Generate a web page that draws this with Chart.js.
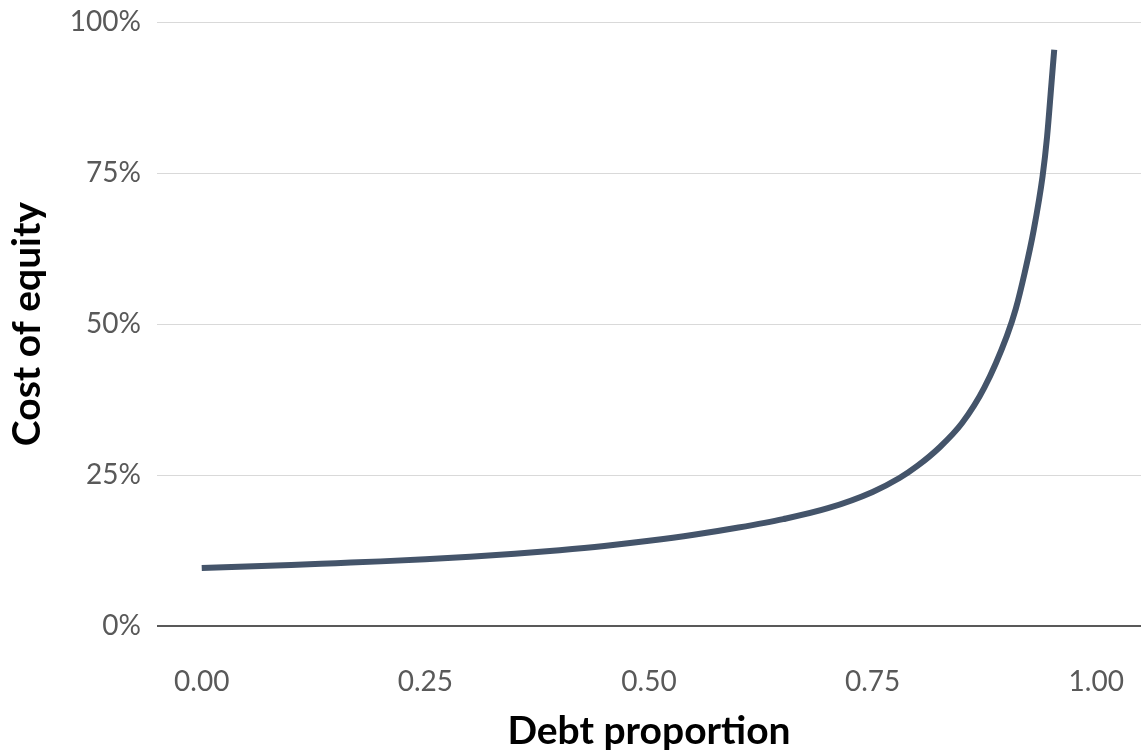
<!DOCTYPE html>
<html>
<head>
<meta charset="utf-8">
<script src="https://cdn.jsdelivr.net/npm/chart.js@4"></script>
<style>
  html, body { margin: 0; padding: 0; background: #ffffff; }
  #wrap { width: 1146px; height: 750px; }
</style>
</head>
<body>
<div id="wrap"><canvas id="c" width="1146" height="750"></canvas></div>
<script>
// Debt proportion (x) values
const debtProportion = [0, 0.05, 0.1, 0.15, 0.2, 0.25, 0.3, 0.35, 0.4, 0.45, 0.5, 0.55, 0.6, 0.65, 0.7, 0.75, 0.78, 0.8, 0.825, 0.85, 0.875, 0.9, 0.91, 0.92, 0.93, 0.94, 0.945, 0.95, 0.953];
// Cost of equity (y) values
const costOfEquity = [0.096, 0.0985, 0.101, 0.104, 0.107, 0.1105, 0.1145, 0.1195, 0.1255, 0.1325, 0.141, 0.151, 0.163, 0.177, 0.195, 0.222, 0.245, 0.265, 0.296, 0.336, 0.395, 0.480, 0.525, 0.585, 0.655, 0.745, 0.81, 0.90, 0.954];
// Tick labels
const xTicks = [0, 0.25, 0.5, 0.75, 1.0];
const yTicks = [0, 0.25, 0.5, 0.75, 1.0];
const xTitle = 'Debt propor\u200Ction';
const yTitle = 'Cost of equity';

const points = debtProportion.map((x, i) => ({ x: x, y: costOfEquity[i] }));

new Chart(document.getElementById('c'), {
  type: 'line',
  data: {
    datasets: [{
      data: points,
      borderColor: '#44546a',
      borderWidth: 6,
      pointRadius: 0,
      fill: false,
      cubicInterpolationMode: 'monotone',
      borderCapStyle: 'butt'
    }]
  },
  options: {
    responsive: false,
    animation: false,
    devicePixelRatio: 1,
    layout: { padding: { top: 0, right: 5, bottom: 0, left: 0 } },
    plugins: { legend: { display: false }, tooltip: { enabled: false } },
    scales: {
      x: {
        type: 'linear',
        min: -0.05,
        max: 1.05,
        afterBuildTicks: (s) => { s.ticks = xTicks.map(v => ({ value: v })); },
        afterFit: (s) => { s.height = 124; },
        grid: {
          display: true,
          drawOnChartArea: false,
          drawTicks: true,
          tickLength: 39,
          tickColor: 'rgba(0,0,0,0)'
        },
        border: { display: false },
        ticks: {
          padding: 0,
          color: '#595959',
          font: { family: 'Lato', size: 28 },
          maxRotation: 0,
          callback: (v) => Number(v).toFixed(2)
        },
        title: {
          display: true,
          text: xTitle,
          color: '#000000',
          font: { family: 'Lato', size: 39, weight: 'bold', lineHeight: 1 },
          padding: { top: 0, bottom: -1 }
        }
      },
      y: {
        type: 'linear',
        min: 0,
        max: 1,
        afterBuildTicks: (s) => { s.ticks = yTicks.map(v => ({ value: v })); },
        afterFit: (s) => { s.width = 157; },
        grid: {
          drawTicks: false,
          color: (ctx) => (ctx.tick && ctx.tick.value === 0) ? '#595959' : '#d9d9d9',
          lineWidth: (ctx) => (ctx.tick && ctx.tick.value === 0) ? 2 : 1
        },
        border: { display: false },
        ticks: {
          padding: 16,
          color: '#595959',
          font: { family: 'Lato', size: 28, lineHeight: 0.43 },
          callback: (v) => Math.round(v * 100) + '%'
        },
        title: {
          display: true,
          text: yTitle,
          color: '#000000',
          font: { family: 'Lato', size: 39, weight: 'bold', lineHeight: 1 },
          padding: { top: 8, bottom: 0 }
        }
      }
    }
  }
});
</script>
</body>
</html>
